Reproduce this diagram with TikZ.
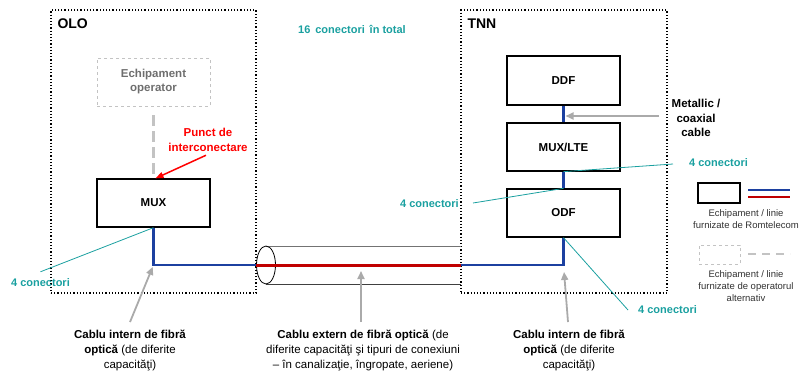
\documentclass[tikz,border=0pt]{standalone}
\usepackage{fontspec}
\setmainfont{Liberation Sans}
\usetikzlibrary{arrows.meta}

\definecolor{connteal}{RGB}{26,160,160}
\definecolor{fiberblue}{RGB}{28,64,160}
\definecolor{fiberred}{RGB}{192,0,0}
\definecolor{opgray}{RGB}{195,195,195}
\definecolor{optext}{RGB}{110,110,110}
\definecolor{pointgray}{RGB}{170,170,170}
\definecolor{legendtext}{RGB}{50,50,50}

\begin{document}
\begin{tikzpicture}[x=1pt,y=-1pt,
  site/.style={draw, line width=1.2pt, dotted, inner sep=0pt},
  sitename/.style={anchor=west, font=\bfseries\fontsize{14}{16}\selectfont},
  equip/.style={draw, line width=1.3pt, minimum width=113pt, minimum height=48pt,
    inner sep=0pt, font=\bfseries\fontsize{11.5}{14}\selectfont},
  opbox/.style={draw=opgray, dashed, line width=0.9pt, minimum width=113pt, minimum height=48pt,
    inner sep=0pt, align=center, text=optext, font=\bfseries\fontsize{11.5}{14}\selectfont},
  blueline/.style={draw=fiberblue, line width=2.2pt},
  redline/.style={draw=fiberred, line width=3pt},
  opline/.style={draw=opgray, line width=2.6pt, dash pattern=on 11pt off 5pt},
  conn/.style={draw=connteal, line width=0.8pt},
  connlabel/.style={text=connteal, font=\bfseries\fontsize{11}{13}\selectfont, inner sep=1pt},
  pointer/.style={draw=pointgray, line width=1.8pt, -{Triangle[length=8pt,width=7pt]}},
  caption/.style={align=center, font=\fontsize{11.5}{15}\selectfont},
  legtext/.style={align=center, text=legendtext, font=\fontsize{9.5}{12}\selectfont}
]
\useasboundingbox (0,0) rectangle (804,373);

% sites
\node[site, minimum width=205pt, minimum height=283pt] (olo) at (153.5,151.5) {};
\node[site, minimum width=206pt, minimum height=283pt] (tnn) at (564,151.5) {};
\node[sitename] (ololbl) at (54,24) {OLO};
\node[sitename] (tnnlbl) at (464,24) {TNN};
\node[connlabel] (total) at (352,29) {16\, conectori\, în total};

% OLO equipment
\node[opbox] (oper) at (153.5,82) {Echipament\\operator};
\node[equip] (mux) at (153.5,203) {MUX};
\draw[opline] ([yshift=-9pt]oper.south) -- ([yshift=1pt]mux.north);
\node[align=center, text=red, font=\bfseries\fontsize{11.5}{15}\selectfont] (punct) at (208,140) {Punct de\\interconectare};
\draw[red, line width=1.5pt, -{Triangle[length=8pt,width=6pt]}] ([xshift=-2pt]punct.south) -- ([xshift=2pt]mux.north);

% TNN equipment
\node[equip, minimum height=49pt] (ddf) at (563.5,80.5) {DDF};
\node[equip] (lte) at (563.5,147) {MUX/LTE};
\node[equip] (odf) at (563.5,213) {ODF};
\draw[blueline] (ddf.south) -- (lte.north);
\draw[blueline] (lte.south) -- (odf.north);

% fibre route
\coordinate (bend1) at (153.5,265);
\coordinate (cabin) at (256,265);
\coordinate (cabout) at (461,265);
\coordinate (bend2) at (563.5,265);
\coordinate (cabtop) at (266,246);
\coordinate (cabbot) at (266,284);
\draw[blueline, line join=miter] (mux.south) -- (bend1) -- (cabin);
\draw[blueline, line join=miter] (cabout) -- (bend2) -- (odf.south);
\draw[line width=0.8pt, black!55] (cabtop) -- (cabtop -| cabout);
\draw[line width=0.8pt, black!75] (cabbot) -- (cabbot -| cabout);
\draw[line width=0.8pt] (266,265) ellipse (9.5 and 19);
\draw[redline] (cabin) -- (cabout);

% connector counts
\node[connlabel] (c1) at (40.5,283) {4 conectori};
\draw[conn] ([yshift=6pt]c1.north) -- (mux.south);
\node[connlabel, anchor=west] (c2) at (688,163) {4 conectori};
\coordinate (c2end) at (673,164);
\draw[conn] (c2end) -- (lte.south);
\node[connlabel, anchor=east] (c3) at (460,204) {4 conectori};
\coordinate (c3end) at (473,203);
\draw[conn] (c3end) -- (odf.north);
\node[connlabel, anchor=west] (c4) at (637,310) {4 conectori};
\draw[conn] (odf.south) -- ([xshift=-9pt]c4.west);

% metallic link
\node[align=center, font=\bfseries\fontsize{11.5}{14.5}\selectfont] (metal) at (696,118) {Metallic /\\coaxial\\cable};
\coordinate (metalend) at (659,116);
\coordinate (ddflte) at (563.5,116);
\draw[pointer] (metalend) -- ([xshift=2pt]ddflte);

% cable captions
\node[caption] (lab1) at (130,350) {\textbf{Cablu intern de fibră}\\\textbf{optică} (de diferite\\capacităţi)};
\node[caption] (lab2) at (363,350) {\textbf{Cablu extern de fibră optică} (de\\diferite capacităţi şi tipuri de conexiuni\\– în canalizaţie, îngropate, aeriene)};
\node[caption] (lab3) at (569,350) {\textbf{Cablu intern de fibră}\\\textbf{optică} (de diferite\\capacităţi)};
\coordinate (cabmid) at (361,265);
\draw[pointer, shorten >=2pt] ([yshift=4pt]lab1.north) -- (bend1);
\draw[pointer, shorten >=6pt] ([yshift=4pt]lab2.north -| cabmid) -- (cabmid);
\draw[pointer, shorten >=7pt] ([yshift=4pt,xshift=-1pt]lab3.north) -- (bend2);

% legend
\node[draw, line width=1.3pt, minimum width=42pt, minimum height=20pt, inner sep=0pt] (legA) at (719,193) {};
\coordinate (legAb1) at (748,190);
\coordinate (legAb2) at (790,190);
\coordinate (legAr1) at (748,197);
\coordinate (legAr2) at (790,197);
\draw[draw=fiberblue, line width=1.5pt] (legAb1) -- (legAb2);
\draw[draw=fiberred, line width=2.6pt] (legAr1) -- (legAr2);
\node[legtext] (legAtxt) at (746,219) {Echipament / linie\\furnizate de Romtelecom};
\node[draw=opgray, dashed, line width=0.7pt, minimum width=41pt, minimum height=19pt, inner sep=0pt] (legB) at (719.5,254.5) {};
\coordinate (legBl1) at (748,254);
\coordinate (legBl2) at (790,254);
\draw[draw=opgray, line width=2.6pt, dash pattern=on 8pt off 6pt] (legBl1) -- (legBl2);
\node[legtext] (legBtxt) at (746,286) {Echipament / linie\\furnizate de operatorul\\alternativ};
\end{tikzpicture}
\end{document}
